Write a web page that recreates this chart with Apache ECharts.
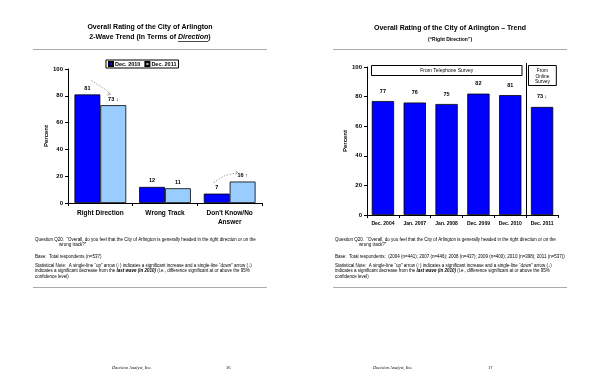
<!DOCTYPE html>
<html><head><meta charset="utf-8">
<script src="https://cdn.jsdelivr.net/npm/echarts@6/dist/echarts.min.js"></script>
<style>html,body{margin:0;padding:0;background:#fff}#c{width:600px;height:388px}</style>
</head><body><div id="c"></div>
<script>
// Left chart data (2-wave trend)
var leftCategories = ['Right Direction', 'Wrong Track', "Don't Know/No\nAnswer"];
var leftSeriesNames = ['Dec. 2010', 'Dec. 2011'];
var dec2010 = [81, 12, 7];
var dec2011 = [73, 11, 16];
var dec2011Sig = ['↓', '', '↑'];
// Right chart data (trend)
var rightCategories = ['Dec. 2004', 'Jan. 2007', 'Jan. 2008', 'Dec. 2009', 'Dec. 2010', 'Dec. 2011'];
var rightValues = [77, 76, 75, 82, 81, 73];
var rightSig = ['', '', '', '', '', '↓'];
var yTicks = [0, 20, 40, 60, 80, 100];

var FONT = 'Liberation Sans, Arial, sans-serif';
var DARK = '#0000ff', LIGHT = '#99ccff';

var chart = echarts.init(document.getElementById('c'), null, {renderer: 'canvas'});

function yAxisCfg(grid) {
  return {
    type: 'value', gridIndex: grid, min: yTicks[0], max: yTicks[yTicks.length - 1], interval: 20,
    name: 'Percent', nameLocation: 'middle', nameGap: grid === 0 ? 18 : 16,
    nameTextStyle: {fontFamily: FONT, fontSize: 6, fontWeight: 'bold', color: '#000'},
    axisLine: {show: true, lineStyle: {color: '#000', width: 1}},
    axisTick: {show: true, length: 3, lineStyle: {color: '#000'}},
    axisLabel: {fontFamily: FONT, fontSize: 6, fontWeight: 'bold', color: '#000', margin: 5},
    splitLine: {show: false}
  };
}

var option = {
  animation: false,
  backgroundColor: '#fff',
  legend: {
    data: leftSeriesNames, left: 106, top: 60, itemWidth: 4, itemHeight: 4, itemGap: 4,
    padding: [1, 2, 1, 2], borderColor: '#000', borderWidth: 1,
    textStyle: {fontFamily: FONT, fontSize: 5.5, fontWeight: 'bold', color: '#000', padding: [0, 0, 0, -3]},
    icon: 'rect'
  },
  grid: [
    {left: 68, top: 69, width: 194, height: 134},
    {left: 367, top: 67, width: 191, height: 148}
  ],
  xAxis: [
    {type: 'category', gridIndex: 0, data: leftCategories,
     axisLine: {lineStyle: {color: '#000', width: 1}},
     axisTick: {show: true, length: 3, alignWithLabel: false, lineStyle: {color: '#000'}},
     axisLabel: {fontFamily: FONT, fontSize: 6.5, fontWeight: 'bold', color: '#000', margin: 6, lineHeight: 9, interval: 0}},
    {type: 'category', gridIndex: 1, data: rightCategories,
     axisLine: {lineStyle: {color: '#000', width: 1}},
     axisTick: {show: true, length: 3, lineStyle: {color: '#000'}},
     axisLabel: {fontFamily: FONT, fontSize: 5, fontWeight: 'bold', color: '#000', margin: 6, interval: 0}}
  ],
  yAxis: [yAxisCfg(0), yAxisCfg(1)],
  series: [
    {name: leftSeriesNames[0], type: 'bar', xAxisIndex: 0, yAxisIndex: 0, data: dec2010,
     barGap: '0%', barCategoryGap: '20%',
     itemStyle: {color: DARK, borderColor: '#000', borderWidth: 0.8},
     label: {show: true, position: 'top', distance: 3, fontFamily: FONT, fontSize: 5.5, fontWeight: 'bold', color: '#000'}},
    {name: leftSeriesNames[1], type: 'bar', xAxisIndex: 0, yAxisIndex: 0, data: dec2011,
     barGap: '0%', barCategoryGap: '20%',
     itemStyle: {color: LIGHT, borderColor: '#000', borderWidth: 0.8},
     label: {show: true, position: 'top', distance: 3, fontFamily: FONT, fontSize: 5.5, fontWeight: 'bold', color: '#000',
       formatter: function (p) { var s = dec2011Sig[p.dataIndex]; return s ? p.value + ' ' + s : String(p.value); }}},
    {name: 'Trend', type: 'bar', xAxisIndex: 1, yAxisIndex: 1, data: rightValues,
     barCategoryGap: '30%',
     itemStyle: {color: DARK, borderColor: '#000', borderWidth: 0.8},
     label: {show: true, position: 'top', distance: 7, fontFamily: FONT, fontSize: 5.5, fontWeight: 'bold', color: '#000',
       formatter: function (p) { var s = rightSig[p.dataIndex]; return s ? p.value + ' ' + s : String(p.value); }}}
  ]
};
chart.setOption(option);

// ---------- decorations (text blocks, rules, boxes, annotation arrows) ----------
var mctx = document.createElement('canvas').getContext('2d');
function measure(text, font) { mctx.font = font; return mctx.measureText(text).width; }

function txt(x, y, text, size, opts) {
  opts = opts || {};
  return {type: 'text', left: x, top: y, silent: true,
    style: Object.assign({text: text, fontFamily: FONT, fontSize: size, fill: '#000',
      fontWeight: opts.bold ? 'bold' : 'normal', fontStyle: opts.italic ? 'italic' : 'normal'}, opts.style || {})};
}
function ctxt(cx, y, text, size, opts) {
  opts = opts || {};
  return {type: 'text', x: cx, y: y, silent: true,
    style: Object.assign({text: text, fontFamily: FONT, fontSize: size, fill: '#000', align: 'center', verticalAlign: 'top',
      fontWeight: opts.bold ? 'bold' : 'normal'}, opts.style || {})};
}
function hline(x1, x2, y, w, c) {
  return {type: 'line', silent: true, shape: {x1: x1, y1: y, x2: x2, y2: y}, style: {stroke: c || '#999', lineWidth: w || 1}};
}

var g = [];
// Left page header
g.push(ctxt(150, 24, 'Overall Rating of the City of Arlington', 7, {bold: true}));
var t2a = '2-Wave Trend (In Terms of ', t2b = 'Direction', t2c = ')';
var wA = measure(t2a, 'bold 7px ' + FONT), wB = measure(t2b, 'italic bold 7px ' + FONT), wC = measure(t2c, 'bold 7px ' + FONT);
var t2x = 150 - (wA + wB + wC) / 2;
g.push(txt(t2x, 34, t2a, 7, {bold: true}));
g.push(txt(t2x + wA, 34, t2b, 7, {bold: true, italic: true}));
g.push(txt(t2x + wA + wB, 34, t2c, 7, {bold: true}));
g.push({type: 'line', silent: true, shape: {x1: t2x + wA, y1: 41.5, x2: t2x + wA + wB, y2: 41.5}, style: {stroke: '#000', lineWidth: 0.7}});
g.push(hline(33, 267, 49.5, 1, '#aaa'));
// Right page header
g.push(ctxt(450, 25, 'Overall Rating of the City of Arlington – Trend', 7, {bold: true}));
g.push(ctxt(450, 37, '(“Right Direction”)', 5, {bold: true}));
g.push(hline(333, 567, 49.5, 1, '#aaa'));

// Notes
var noteSize = 4.5;
function notes(x, baseText) {
  var arr = [];
  arr.push(txt(x, 237, 'Question Q20.  “Overall, do you feel that the City of Arlington is generally headed in the right direction or on the', noteSize));
  arr.push(txt(x + 24, 242.5, 'wrong track?”', noteSize));
  arr.push(txt(x, 254, baseText, noteSize));
  arr.push(txt(x, 263, 'Statistical Note:  A single-line “up” arrow (↑) indicates a significant increase and a single-line “down” arrow (↓)', noteSize));
  arr.push({type: 'text', left: x, top: 268.5, silent: true, style: {
    text: '{n|indicates a significant decrease from the }{b|last wave (in 2010)}{n| (i.e., difference significant at or above the 95%}',
    rich: {n: {fontFamily: FONT, fontSize: noteSize, fill: '#000'},
           b: {fontFamily: FONT, fontSize: noteSize, fill: '#000', fontWeight: 'bold', fontStyle: 'italic'}}}});
  arr.push(txt(x, 274, 'confidence level)', noteSize));
  return arr;
}
g = g.concat(notes(35, 'Base:  Total respondents (n=537)'));
g = g.concat(notes(335, 'Base:  Total respondents:  (2004 (n=441); 2007 (n=446); 2008 (n=437); 2009 (n=400); 2010 (n=398); 2011 (n=537))'));
g.push(hline(33, 267, 287.5, 1, '#aaa'));
g.push(hline(333, 567, 287.5, 1, '#aaa'));

// Footer
var footStyle = {fontFamily: 'Liberation Serif, Times New Roman, serif'};
g.push(txt(112, 365, 'Decision Analyst, Inc.', 4.5, {italic: true, style: footStyle}));
g.push(txt(226, 365, '16', 4.5, {style: footStyle}));
g.push(txt(373, 365, 'Decision Analyst, Inc.', 4.5, {italic: true, style: footStyle}));
g.push(txt(488, 365, '17', 4.5, {style: footStyle}));

// Right chart: survey-mode boxes and separator computed from axis positions
var pTop = chart.convertToPixel({xAxisIndex: 1, yAxisIndex: 1}, [0, 100]);
var pBase = chart.convertToPixel({xAxisIndex: 1, yAxisIndex: 1}, [0, 0]);
var c4 = chart.convertToPixel({xAxisIndex: 1, yAxisIndex: 1}, [4, 0]);
var c5 = chart.convertToPixel({xAxisIndex: 1, yAxisIndex: 1}, [5, 0]);
var catW = c5[0] - c4[0];
var sepX = Math.round((c4[0] + c5[0]) / 2) + 0.5;
var gridLeft = 367;
g.push({type: 'line', silent: true, shape: {x1: sepX, y1: pTop[1] - 4, x2: sepX, y2: pBase[1]}, style: {stroke: '#000', lineWidth: 1}});
g.push({type: 'rect', silent: true, shape: {x: gridLeft + 4.5, y: pTop[1] - 1.5, width: sepX - gridLeft - 9, height: 10},
  style: {fill: '#fff', stroke: '#000', lineWidth: 1}});
g.push(ctxt((gridLeft + sepX) / 2, pTop[1] + 1.5, 'From Telephone Survey', 5, {bold: false}));
g.push({type: 'rect', silent: true, shape: {x: sepX + 2, y: pTop[1] - 1.5, width: catW - 4, height: 20},
  style: {fill: '#fff', stroke: '#000', lineWidth: 1}});
g.push({type: 'text', x: sepX + catW / 2, y: pTop[1] + 0.5, silent: true,
  style: {text: 'From\nOnline\nSurvey', align: 'center', verticalAlign: 'top', fontFamily: FONT, fontSize: 4.8, lineHeight: 5.8, fill: '#000'}});

// Left chart: dotted annotation arrows between waves (from bar tops)
function barTop(i, v, side) {
  var p = chart.convertToPixel({xAxisIndex: 0, yAxisIndex: 0}, [i, v]);
  var cw = 194 / leftCategories.length * 0.8 / 2;
  return [p[0] + side * cw / 2, p[1]];
}
var a0 = barTop(0, dec2010[0], -1), b0 = barTop(0, dec2011[0], 1);
g.push({type: 'polyline', silent: true, shape: {points: [[a0[0] + 4, a0[1] - 14], [b0[0] - 6, b0[1] - 10 - (b0[1] - a0[1]) * 0.4], [b0[0] - 3, b0[1] - 11]]},
  style: {stroke: '#888', lineWidth: 0.8, lineDash: [1.5, 1.5], fill: null}});
g.push({type: 'polyline', silent: true, shape: {points: [[b0[0] - 5, b0[1] - 13], [b0[0] - 3, b0[1] - 11], [b0[0] - 6, b0[1] - 10]]},
  style: {stroke: '#888', lineWidth: 0.8, fill: null}});
var a2 = barTop(2, dec2010[2], -1), b2 = barTop(2, dec2011[2], 1);
g.push({type: 'polyline', silent: true, shape: {points: [[a2[0] - 3, a2[1] - 11], [a2[0] + 8, a2[1] - 18], [b2[0] - 5, b2[1] - 9]]},
  style: {stroke: '#888', lineWidth: 0.8, lineDash: [1.5, 1.5], fill: null}});
g.push({type: 'polyline', silent: true, shape: {points: [[b2[0] - 7, b2[1] - 11], [b2[0] - 5, b2[1] - 9], [b2[0] - 7, b2[1] - 7]]},
  style: {stroke: '#888', lineWidth: 0.8, fill: null}});

chart.setOption({graphic: g});
</script>
</body></html>
